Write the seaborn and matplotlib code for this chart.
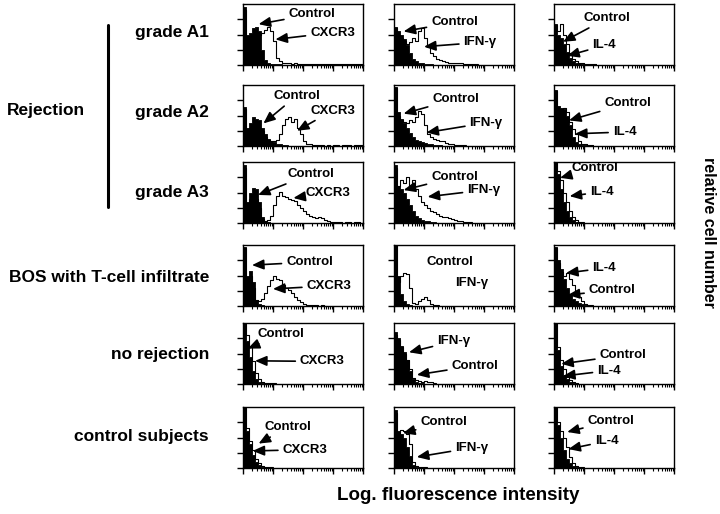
import numpy as np
import pandas as pd
import matplotlib.pyplot as plt
import seaborn as sns
from matplotlib.lines import Line2D

sns.set_style("ticks")
plt.rcParams['font.family'] = ['Liberation Sans', 'DejaVu Sans']
plt.rcParams['font.weight'] = 'bold'
plt.rcParams['text.color'] = 'black'
plt.rcParams['xtick.color'] = 'black'
plt.rcParams['ytick.color'] = 'black'

# 40 bins de 0.1 decada sobre 4 decadas (escala log)
edges = np.linspace(0, 4, 41)
centers = (edges[:-1] + edges[1:]) / 2

markers = ["CXCR3", "IFN-γ", "IL-4"]

# --- histogramas (altura relativa, 1 = techo del panel) ---
# CXCR3
ctrl_a1_cxcr3 = [0.95, 0.50, 0.52, 0.60, 0.62, 0.55, 0.25, 0.08, 0.03, 0.02, 0.01, 0.01, 0.01]
open_a1_cxcr3 = [0.90, 0.40, 0.40, 0.45, 0.50, 0.50, 0.52, 0.58, 0.62, 0.55, 0.40, 0.12, 0.06, 0.04,
                 0.03, 0.03, 0.02, 0.03, 0.02, 0.02, 0.02, 0.01, 0.02, 0.01, 0.02, 0.01, 0.01, 0.01,
                 0.02, 0.01, 0.01, 0.01, 0.01, 0.01, 0.01, 0.02, 0.01, 0.01, 0.01, 0.01]
ctrl_a2_cxcr3 = [0.64, 0.30, 0.38, 0.47, 0.45, 0.42, 0.30, 0.20, 0.12, 0.08, 0.06, 0.04, 0.03, 0.02, 0.01]
open_a2_cxcr3 = [0.60, 0.28, 0.30, 0.35, 0.35, 0.30, 0.25, 0.15, 0.10, 0.08, 0.08, 0.10, 0.20, 0.35,
                 0.44, 0.47, 0.40, 0.45, 0.30, 0.20, 0.08, 0.04, 0.03, 0.02, 0.01, 0.01, 0.01, 0.0,
                 0.01, 0.0, 0.01, 0.01, 0.0, 0.01, 0.01, 0.01, 0.0, 0.01, 0.01, 0.01]
ctrl_a3_cxcr3 = [0.95, 0.35, 0.50, 0.58, 0.55, 0.35, 0.10, 0.03, 0.01]
open_a3_cxcr3 = [0.90, 0.30, 0.40, 0.45, 0.40, 0.25, 0.06, 0.04, 0.05, 0.12, 0.30, 0.45, 0.51, 0.45,
                 0.42, 0.40, 0.38, 0.36, 0.30, 0.25, 0.20, 0.15, 0.12, 0.10, 0.08, 0.10, 0.08, 0.05,
                 0.03, 0.02, 0.01, 0.01, 0.01, 0.0, 0.01, 0.01, 0.0, 0.01, 0.01, 0.0]
ctrl_bos_cxcr3 = [0.97, 0.50, 0.57, 0.40, 0.10, 0.03, 0.01]
open_bos_cxcr3 = [0.95, 0.45, 0.50, 0.30, 0.10, 0.08, 0.12, 0.22, 0.32, 0.42, 0.49, 0.45, 0.42, 0.35,
                  0.30, 0.27, 0.22, 0.15, 0.10, 0.06, 0.03, 0.02, 0.01, 0.01, 0.01, 0.0, 0.01, 0.0]
ctrl_norej_cxcr3 = [1.0, 0.70, 0.45, 0.22, 0.08, 0.03, 0.01]
open_norej_cxcr3 = [0.98, 0.80, 0.60, 0.38, 0.18, 0.08, 0.04, 0.02, 0.01, 0.01, 0.01]
ctrl_ctrl_cxcr3 = [1.0, 0.60, 0.40, 0.22, 0.10, 0.05, 0.02, 0.01]
open_ctrl_cxcr3 = [0.98, 0.65, 0.45, 0.30, 0.15, 0.08, 0.04, 0.02, 0.01, 0.01]

# IFN-gamma
ctrl_a1_ifn = [0.62, 0.55, 0.50, 0.42, 0.32, 0.20, 0.10, 0.06, 0.04, 0.03, 0.02, 0.02, 0.01]
open_a1_ifn = [0.60, 0.50, 0.45, 0.40, 0.35, 0.38, 0.45, 0.40, 0.55, 0.60, 0.45, 0.30, 0.20, 0.15,
               0.10, 0.08, 0.06, 0.05, 0.04, 0.04, 0.03, 0.04, 0.03, 0.02, 0.01, 0.01, 0.01, 0.01]
ctrl_a2_ifn = [0.97, 0.55, 0.45, 0.38, 0.30, 0.22, 0.15, 0.10, 0.08, 0.06, 0.05, 0.04, 0.03, 0.02,
               0.02, 0.01]
open_a2_ifn = [0.95, 0.50, 0.42, 0.40, 0.38, 0.42, 0.40, 0.48, 0.58, 0.52, 0.35, 0.20, 0.15, 0.12,
               0.10, 0.08, 0.08, 0.05, 0.03, 0.03, 0.02, 0.01, 0.01, 0.01]
ctrl_a3_ifn = [0.95, 0.60, 0.55, 0.50, 0.40, 0.30, 0.20, 0.12, 0.08, 0.05, 0.04, 0.03, 0.02, 0.01]
open_a3_ifn = [0.90, 0.60, 0.70, 0.65, 0.75, 0.60, 0.70, 0.55, 0.45, 0.35, 0.30, 0.25, 0.20, 0.18,
               0.15, 0.12, 0.10, 0.10, 0.08, 0.06, 0.05, 0.04, 0.03, 0.02, 0.01, 0.01]
ctrl_bos_ifn = [1.0, 0.50, 0.20, 0.08, 0.03, 0.01]
open_bos_ifn = [1.0, 0.39, 0.50, 0.54, 0.52, 0.30, 0.05, 0.03, 0.08, 0.12, 0.15, 0.10, 0.04, 0.02, 0.01]
ctrl_norej_ifn = [0.85, 0.75, 0.62, 0.52, 0.40, 0.22, 0.08, 0.04, 0.02, 0.01]
open_norej_ifn = [0.80, 0.72, 0.60, 0.50, 0.40, 0.25, 0.10, 0.06, 0.05, 0.04, 0.05, 0.03, 0.04, 0.01]
ctrl_ctrl_ifn = [0.95, 0.60, 0.55, 0.50, 0.35, 0.20, 0.05, 0.02, 0.01]
open_ctrl_ifn = [0.90, 0.55, 0.62, 0.60, 0.55, 0.40, 0.10, 0.03, 0.02, 0.01, 0.01]

# IL-4
ctrl_a1_il4 = [0.67, 0.50, 0.45, 0.35, 0.22, 0.12, 0.06, 0.04, 0.03, 0.02, 0.02, 0.01, 0.01, 0.01]
open_a1_il4 = [0.65, 0.55, 0.68, 0.50, 0.35, 0.20, 0.10, 0.06, 0.04, 0.03, 0.02, 0.02, 0.01, 0.01]
ctrl_a2_il4 = [0.92, 0.65, 0.62, 0.60, 0.50, 0.35, 0.15, 0.06, 0.03, 0.02, 0.02, 0.01, 0.01]
open_a2_il4 = [0.90, 0.60, 0.60, 0.62, 0.55, 0.40, 0.28, 0.20, 0.08, 0.04, 0.03, 0.02, 0.01]
ctrl_a3_il4 = [1.0, 0.80, 0.55, 0.35, 0.20, 0.10, 0.05, 0.02, 0.01]
open_a3_il4 = [0.98, 0.85, 0.70, 0.50, 0.35, 0.20, 0.10, 0.05, 0.02, 0.01]
ctrl_bos_il4 = [0.97, 0.75, 0.60, 0.45, 0.30, 0.20, 0.12, 0.08, 0.05, 0.03, 0.02, 0.01]
open_bos_il4 = [0.95, 0.70, 0.55, 0.50, 0.54, 0.45, 0.35, 0.25, 0.15, 0.08, 0.04, 0.02, 0.01]
ctrl_norej_il4 = [1.0, 0.55, 0.30, 0.15, 0.08, 0.04, 0.02, 0.01]
open_norej_il4 = [0.98, 0.60, 0.40, 0.25, 0.12, 0.06, 0.03, 0.01]
ctrl_ctrl_il4 = [1.0, 0.70, 0.50, 0.30, 0.15, 0.08, 0.04, 0.02, 0.01]
open_ctrl_il4 = [0.98, 0.75, 0.60, 0.50, 0.35, 0.18, 0.08, 0.04, 0.02, 0.01]

hists = [
    [(ctrl_a1_cxcr3, open_a1_cxcr3), (ctrl_a1_ifn, open_a1_ifn), (ctrl_a1_il4, open_a1_il4)],
    [(ctrl_a2_cxcr3, open_a2_cxcr3), (ctrl_a2_ifn, open_a2_ifn), (ctrl_a2_il4, open_a2_il4)],
    [(ctrl_a3_cxcr3, open_a3_cxcr3), (ctrl_a3_ifn, open_a3_ifn), (ctrl_a3_il4, open_a3_il4)],
    [(ctrl_bos_cxcr3, open_bos_cxcr3), (ctrl_bos_ifn, open_bos_ifn), (ctrl_bos_il4, open_bos_il4)],
    [(ctrl_norej_cxcr3, open_norej_cxcr3), (ctrl_norej_ifn, open_norej_ifn), (ctrl_norej_il4, open_norej_il4)],
    [(ctrl_ctrl_cxcr3, open_ctrl_cxcr3), (ctrl_ctrl_ifn, open_ctrl_ifn), (ctrl_ctrl_il4, open_ctrl_il4)],
]

# etiquetas en cada panel: (texto, posicion texto, punta de flecha) en fraccion de ejes
notes = [
    [[("Control", (0.38, 0.83), (0.13, 0.67)), ("CXCR3", (0.56, 0.53), (0.27, 0.42))],
     [("Control", (0.31, 0.70), (0.08, 0.55)), ("IFN-γ", (0.58, 0.37), (0.25, 0.30))],
     [("Control", (0.25, 0.77), (0.075, 0.38)), ("IL-4", (0.32, 0.32), (0.11, 0.15))]],
    [[("Control", (0.25, 0.82), (0.17, 0.37)), ("CXCR3", (0.56, 0.58), (0.45, 0.25))],
     [("Control", (0.32, 0.77), (0.08, 0.53)), ("IFN-γ", (0.63, 0.38), (0.27, 0.22))],
     [("Control", (0.42, 0.70), (0.125, 0.42)), ("IL-4", (0.49, 0.23), (0.175, 0.20))]],
    [[("Control", (0.37, 0.80), (0.125, 0.46)), ("CXCR3", (0.525, 0.49), (0.42, 0.41))],
     [("Control", (0.31, 0.75), (0.08, 0.54)), ("IFN-γ", (0.61, 0.54), (0.28, 0.43))],
     [("Control", (0.15, 0.90), (0.05, 0.74)), ("IL-4", (0.30, 0.51), (0.13, 0.44))]],
    [[("Control", (0.36, 0.72), (0.075, 0.67)), ("CXCR3", (0.53, 0.33), (0.25, 0.28))],
     [("Control", (0.27, 0.72), None), ("IFN-γ", (0.51, 0.38), None)],
     [("IL-4", (0.32, 0.62), (0.10, 0.54)), ("Control", (0.29, 0.26), (0.115, 0.18))]],
    [[("Control", (0.125, 0.82), (0.04, 0.58)), ("CXCR3", (0.475, 0.37), (0.10, 0.38))],
     [("IFN-γ", (0.36, 0.70), (0.125, 0.52)), ("Control", (0.48, 0.30), (0.19, 0.15))],
     [("Control", (0.38, 0.47), (0.06, 0.33)), ("IL-4", (0.36, 0.22), (0.075, 0.13))]],
    [[("Control", (0.18, 0.67), (0.13, 0.40)), ("CXCR3", (0.33, 0.30), (0.08, 0.28))],
     [("Control", (0.22, 0.75), (0.075, 0.57)), ("IFN-γ", (0.51, 0.33), (0.19, 0.18))],
     [("Control", (0.28, 0.77), (0.11, 0.59)), ("IL-4", (0.34, 0.44), (0.12, 0.31))]],
]

W, H = 720, 514
col_left = [243, 394, 554]
row_top = [4, 85, 162, 245, 323, 407]
pw, ph = 120, 61

fig = plt.figure(figsize=(7.2, 5.14), dpi=100)

minor = [d + np.log10(k) for d in range(4) for k in range(2, 10)]


def draw_hist(ax, vals, filled):
    n = len(vals)
    df = pd.DataFrame({"x": centers[:n], "w": vals})
    kw = dict(data=df, x="x", weights="w", bins=n, binrange=(edges[0], edges[n]),
              element="step", color="black", ax=ax)
    if filled:
        sns.histplot(fill=True, alpha=1, linewidth=0.6, **kw)
    else:
        sns.histplot(fill=False, linewidth=0.8, **kw)


for r in range(6):
    for c in range(3):
        ax = fig.add_axes([col_left[c] / W, 1 - (row_top[r] + ph) / H, pw / W, ph / H])
        ctrl, stain = hists[r][c]
        draw_hist(ax, ctrl, True)
        draw_hist(ax, stain, False)
        ax.set_xlim(0, 4)
        ax.set_ylim(0, 1)
        ax.set_xlabel("")
        ax.set_ylabel("")
        ax.set_yticks([0, 0.25, 0.5, 0.75])
        ax.set_xticks(range(5))
        ax.set_xticks(minor, minor=True)
        ax.set_xticklabels([])
        ax.set_yticklabels([])
        ax.tick_params(axis="both", which="major", direction="out", length=4, width=1, color="black")
        ax.tick_params(axis="x", which="minor", direction="out", length=2, width=0.8, color="black")
        for s in ax.spines.values():
            s.set_visible(True)
            s.set_color("black")
            s.set_linewidth(1.0)
        for label, txt, tip in notes[r][c]:
            if tip is None:
                ax.text(txt[0], txt[1], label, transform=ax.transAxes, ha="left", va="center",
                        fontsize=9.5, fontweight="bold", color="black")
            else:
                ax.annotate(label, xy=tip, xytext=txt, xycoords="axes fraction",
                            textcoords="axes fraction", ha="left", va="center",
                            fontsize=9.5, fontweight="bold", color="black",
                            arrowprops=dict(arrowstyle="-|>,head_length=0.7,head_width=0.3",
                                            color="black", lw=1.2, shrinkA=1, shrinkB=0,
                                            mutation_scale=10))

# textos de filas (alineados a la derecha)
row_texts = [("grade A1", 33), ("grade A2", 113), ("grade A3", 192),
             ("BOS with T-cell infiltrate", 277), ("no rejection", 355), ("control subjects", 437)]
for t, y in row_texts:
    fig.text(209 / W, 1 - y / H, t, ha="right", va="center", fontsize=12.5, fontweight="bold",
             color="black")
fig.text(7 / W, 1 - 110 / H, "Rejection", ha="left", va="center", fontsize=12.5,
         fontweight="bold", color="black")

fig.add_artist(Line2D([108 / W, 108 / W], [1 - 25 / H, 1 - 207 / H], color="black", lw=2.2))

fig.text(708 / W, 1 - 232 / H, "relative cell number", rotation=270, ha="center", va="center",
         fontsize=11.5, fontweight="bold", color="black")
fig.text(458 / W, 1 - 496 / H, "Log. fluorescence intensity", ha="center", va="center",
         fontsize=13.5, fontweight="bold", color="black")

fig.savefig("out.png", dpi=100, facecolor="white")
